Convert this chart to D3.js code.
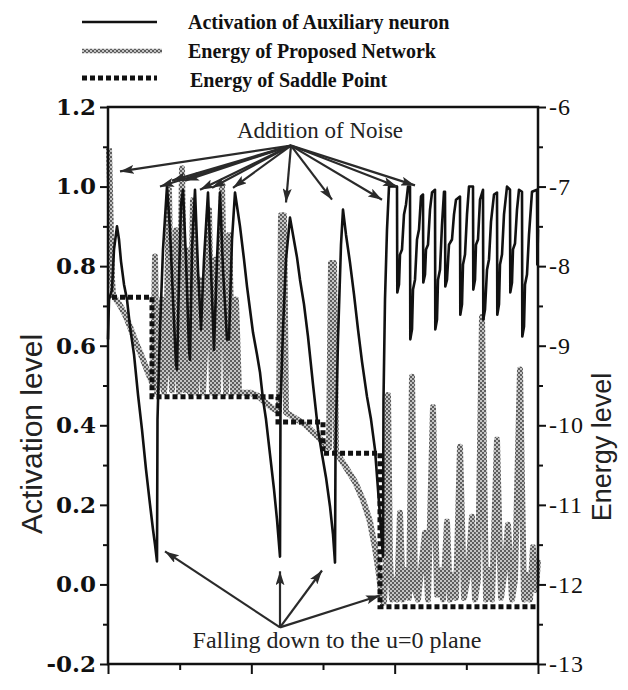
<!DOCTYPE html>
<html lang="en">
<head>
<meta charset="UTF-8">
<title>Auxiliary neuron activation and energy</title>
<script src="https://d3js.org/d3.v7.min.js"></script>
<style>
    body { margin: 0; background: #ffffff; }
    .serif { font-family: "Liberation Serif", "Times New Roman", serif; }
    .sans { font-family: "Liberation Sans", Arial, sans-serif; }
</style>
</head>
<body>
<svg id="chart" width="628" height="690"></svg>
<script>
    // activation of the auxiliary neuron: [step, activation]
    const activation = [
        [0, 0.616], [1, 0.716], [4, 0.741], [6, 0.842], [9, 0.9], [11, 0.867], [13, 0.812], [16, 0.754],
        [19, 0.716], [22, 0.648], [26, 0.578], [30, 0.477], [34, 0.389], [38, 0.289], [42, 0.201], [45, 0.138],
        [47, 0.1], [49, 0.058],
        [49.5, 0.415], [52, 0.641], [55, 0.842], [59, 1.0], [62, 0.892], [65, 0.716], [68, 0.553], [69, 0.54],
        [71, 0.766], [73, 0.955], [75, 0.992], [78, 0.817], [81, 0.59], [82, 0.565], [84, 0.842], [87, 0.992],
        [90, 0.791], [93, 0.641], [96, 0.817], [100, 0.985], [103, 0.791], [106, 0.59], [109, 0.817], [112, 0.985],
        [115, 0.791], [119, 0.616], [121, 0.616], [124, 0.867], [127, 0.985], [132, 0.9], [136, 0.817], [139, 0.749],
        [142, 0.691], [145, 0.633], [149, 0.578], [152, 0.533], [155, 0.465], [158, 0.415], [162, 0.327], [166, 0.239],
        [169, 0.163], [172, 0.07],
        [172.5, 0.447], [175, 0.641], [178, 0.817], [182, 0.922], [185, 0.879], [189, 0.822], [192, 0.766], [196, 0.704],
        [200, 0.623], [205, 0.503], [210, 0.389], [214, 0.327], [218, 0.269], [222, 0.196], [225, 0.126], [227, 0.055],
        [227.5, 0.332], [230, 0.616], [233, 0.854], [235, 0.942], [238, 0.879], [242, 0.809], [246, 0.729], [250, 0.641],
        [254, 0.56], [259, 0.472], [263, 0.415], [267, 0.339], [270, 0.239], [273, 0.138], [275, 0.07],
        [275.5, 0.465], [277, 0.716], [279, 0.892], [281, 1.0], [289, 1.0],
        [289.3, 0.734], [291, 0.754], [292, 0.829], [294, 0.842], [296, 0.93], [298, 0.955], [300, 1.0], [302, 1.0],
        [302.3, 0.616], [304, 0.641], [305, 0.741], [307, 0.766], [309, 0.867], [311, 0.892], [313, 0.975], [315, 0.98],
        [315.3, 0.759], [317, 0.779], [318, 0.842], [320, 0.854], [322, 0.942], [324, 0.985], [327, 0.992],
        [327.3, 0.641], [329, 0.666], [330, 0.766], [332, 0.791], [334, 0.904], [336, 0.987], [337, 0.987],
        [337.3, 0.749], [339, 0.766], [341, 0.854], [344, 0.867], [346, 0.93], [348, 0.967], [352, 0.975],
        [352.3, 0.678], [354, 0.704], [355, 0.804], [357, 0.829], [359, 0.93], [361, 1.0], [365, 1.0],
        [365.3, 0.741], [367, 0.766], [368, 0.854], [370, 0.867], [372, 0.967], [375, 0.992],
        [375.3, 0.666], [377, 0.691], [379, 0.791], [381, 0.817], [383, 0.912], [386, 0.98], [389, 0.985],
        [389.3, 0.678], [391, 0.704], [392, 0.804], [394, 0.829], [396, 0.93], [399, 1.0], [402, 0.992],
        [402.3, 0.734], [404, 0.759], [405, 0.842], [407, 0.857], [409, 0.942], [411, 0.992], [414, 0.987],
        [414.3, 0.623], [416, 0.648], [417, 0.754], [419, 0.779], [421, 0.879], [424, 0.987], [429, 0.992],
        [429.3, 0.804], [430, 0.892]
    ];

    // energy of the proposed network: [step, energy]
    const energy = [
        [1, -6.52], [2, -7.04], [3, -7.67], [4, -8.17], [5, -8.36], [8, -8.42], [12, -8.49], [17, -8.61],
        [22, -8.76], [27, -8.93], [32, -9.08], [37, -9.24], [42, -9.40], [45, -9.49],
        [47, -7.88], [49, -9.58], [51, -9.43], [54, -8.42], [56, -9.58], [58, -9.30], [61, -7.04], [64, -9.56],
        [66, -8.93], [68, -7.55], [71, -9.58], [74, -6.77], [77, -9.56], [79, -7.80], [82, -9.59], [85, -7.17],
        [88, -9.59], [92, -8.17], [95, -9.59], [98, -8.80], [101, -7.29], [104, -9.59], [107, -7.92], [110, -9.59],
        [114, -6.98], [118, -9.59], [121, -7.61], [125, -9.59], [128, -8.42], [131, -9.59], [142, -9.59],
        [150, -9.63], [157, -9.71], [164, -9.78], [171, -9.83], [173, -7.36], [176, -7.36], [178, -9.84],
        [187, -9.91], [197, -9.99], [207, -10.11], [217, -10.23], [221, -10.28], [223, -7.96], [226, -7.96],
        [228, -10.33], [237, -10.51], [247, -10.71], [255, -10.94], [262, -11.21], [267, -11.54], [271, -11.88],
        [274, -12.19],
        [276, -12.23], [278, -11.69], [280, -9.62], [282, -11.69], [284, -12.19], [287, -11.94], [289, -12.19],
        [292, -11.10], [295, -12.19], [298, -11.82], [301, -12.17], [304, -9.39], [307, -12.07], [310, -12.19],
        [313, -11.82], [317, -11.35], [320, -12.19], [325, -9.77], [329, -12.13], [332, -11.82], [335, -12.19],
        [339, -11.21], [342, -12.19], [345, -11.88], [348, -12.17], [352, -10.27], [356, -12.17], [360, -11.88],
        [364, -11.15], [367, -12.19], [370, -11.94], [374, -8.64], [378, -12.19], [381, -11.82], [384, -12.19],
        [389, -10.18], [393, -12.17], [396, -11.88], [400, -11.25], [404, -12.19], [407, -11.94], [412, -9.30],
        [416, -12.19], [419, -11.88], [422, -12.19], [425, -11.53], [428, -12.07], [430, -11.69]
    ];

    // energy of the saddle point (step function): [step, energy]
    const saddle = [[4, -8.39], [44, -9.64], [170, -9.96], [215, -10.35], [272, -12.28], [430, -12.28]];

    const stepDomain = [0, 430];
    const leftTicks = [-0.2, 0.0, 0.2, 0.4, 0.6, 0.8, 1.0, 1.2];
    const leftMinor = [-0.1, 0.1, 0.3, 0.5, 0.7, 0.9, 1.1];
    const rightTicks = [-13, -12, -11, -10, -9, -8, -7, -6];
    const rightMinor = [-12.5, -11.5, -10.5, -9.5, -8.5, -7.5, -6.5];
    const bottomMajor = [0, 143.33, 286.67, 430];
    const bottomMinor = [71.67, 215, 358.33];

    const legendLabels = ["Activation of Auxiliary neuron", "Energy of Proposed Network", "Energy of Saddle Point"];

    // annotation arrows, tips in [step, activation]
    const noiseFrom = [183, 1.103];
    const noiseTips = [[12, 1.038], [52, 1.0], [64, 1.015], [77, 1.015], [92, 0.992], [104, 0.997], [125, 0.997],
        [178, 0.96], [224, 0.967], [274, 0.967], [289, 1.0], [307, 1.003]];
    const fallFrom = [172, -0.108];
    const fallTips = [[57, 0.083], [172, 0.033], [214, 0.035], [272, -0.028]];

    const svg = d3.select("#chart");
    const mLeft = 108, mRight = 538, mTop = 107, mBottom = 664;

    const x = d3.scaleLinear().domain(stepDomain).range([mLeft, mRight]);
    const yA = d3.scaleLinear().domain([-0.2, 1.2]).range([mBottom, mTop]);
    const yE = d3.scaleLinear().domain([-13, -6]).range([mBottom, mTop]);

    // checkered pattern for the energy trace
    const defs = svg.append("defs");
    const pat = defs.append("pattern")
        .attr("id", "hatch")
        .attr("width", 4).attr("height", 4)
        .attr("patternUnits", "userSpaceOnUse");
    pat.append("rect").attr("width", 4).attr("height", 4).attr("fill", "#5e5e5e");
    pat.append("rect").attr("width", 2).attr("height", 2).attr("fill", "#c4c4c4");
    pat.append("rect").attr("x", 2).attr("y", 2).attr("width", 2).attr("height", 2).attr("fill", "#c4c4c4");

    const marker = defs.append("marker")
        .attr("id", "arrow")
        .attr("viewBox", "0 0 14 9")
        .attr("refX", 14).attr("refY", 4.5)
        .attr("markerWidth", 14).attr("markerHeight", 9)
        .attr("markerUnits", "userSpaceOnUse")
        .attr("orient", "auto");
    marker.append("path").attr("d", "M0,0 L14,4.5 L0,9 L3,4.5 Z").attr("fill", "#2a2a2a");

    // energy (gray checkered)
    svg.append("path")
        .datum(energy)
        .attr("fill", "none")
        .attr("stroke", "url(#hatch)")
        .attr("stroke-width", 6)
        .attr("stroke-linejoin", "round")
        .attr("d", d3.line().x(d => x(d[0])).y(d => yE(d[1])));

    // saddle point energy (dotted step)
    svg.append("path")
        .datum(saddle)
        .attr("fill", "none")
        .attr("stroke", "#111")
        .attr("stroke-width", 5)
        .attr("stroke-dasharray", "5,3")
        .attr("d", d3.line().curve(d3.curveStepAfter).x(d => x(d[0])).y(d => yE(d[1])));

    // activation (black)
    svg.append("path")
        .datum(activation)
        .attr("fill", "none")
        .attr("stroke", "#111")
        .attr("stroke-width", 2.6)
        .attr("stroke-linejoin", "round")
        .attr("d", d3.line().x(d => x(d[0])).y(d => yA(d[1])));

    // frame
    svg.append("rect")
        .attr("x", mLeft).attr("y", mTop)
        .attr("width", mRight - mLeft).attr("height", mBottom - mTop)
        .attr("fill", "none").attr("stroke", "#111").attr("stroke-width", 2.5);

    // axes
    function styleAxis(g) {
        g.select(".domain").remove();
        g.selectAll(".tick line").attr("stroke", "#111").attr("stroke-width", 2);
    }

    svg.append("g")
        .attr("transform", `translate(${mLeft},0)`)
        .call(d3.axisLeft(yA).tickValues(leftTicks).tickSize(8).tickPadding(4).tickFormat(d => d.toFixed(1)))
        .call(styleAxis)
        .call(g => g.selectAll("text")
            .style("font-family", '"DejaVu Serif", serif')
            .style("font-size", "23px").style("font-weight", "bold")
            .attr("fill", "#111"));
    svg.append("g")
        .attr("transform", `translate(${mLeft},0)`)
        .call(d3.axisLeft(yA).tickValues(leftMinor).tickSize(5).tickFormat(""))
        .call(styleAxis);

    svg.append("g")
        .attr("transform", `translate(${mRight},0)`)
        .call(d3.axisRight(yE).tickValues(rightTicks).tickSize(8).tickPadding(3).tickFormat(d => String(d)))
        .call(styleAxis)
        .call(g => g.selectAll("text")
            .attr("class", "serif")
            .style("font-size", "24px").style("letter-spacing", "1px").attr("fill", "#111"));
    svg.append("g")
        .attr("transform", `translate(${mRight},0)`)
        .call(d3.axisRight(yE).tickValues(rightMinor).tickSize(5).tickFormat(""))
        .call(styleAxis);

    svg.append("g")
        .attr("transform", `translate(0,${mBottom})`)
        .call(d3.axisBottom(x).tickValues(bottomMajor).tickSize(10).tickFormat(""))
        .call(styleAxis);
    svg.append("g")
        .attr("transform", `translate(0,${mBottom})`)
        .call(d3.axisBottom(x).tickValues(bottomMinor).tickSize(6).tickFormat(""))
        .call(styleAxis);

    // axis titles
    svg.append("text")
        .attr("class", "sans")
        .attr("transform", "translate(42,434) rotate(-90)")
        .attr("text-anchor", "middle")
        .style("font-size", "30px").attr("fill", "#222")
        .text("Activation level");
    svg.append("text")
        .attr("class", "sans")
        .attr("transform", "translate(611,447) rotate(-90)")
        .attr("text-anchor", "middle")
        .style("font-size", "27px").attr("fill", "#222")
        .text("Energy level");

    // annotations
    const ann = svg.append("g");
    noiseTips.forEach(t => {
        ann.append("line")
            .attr("x1", x(noiseFrom[0])).attr("y1", yA(noiseFrom[1]))
            .attr("x2", x(t[0])).attr("y2", yA(t[1]))
            .attr("stroke", "#2a2a2a").attr("stroke-width", 2.2)
            .attr("marker-end", "url(#arrow)");
    });
    fallTips.forEach(t => {
        ann.append("line")
            .attr("x1", x(fallFrom[0])).attr("y1", yA(fallFrom[1]))
            .attr("x2", x(t[0])).attr("y2", yA(t[1]))
            .attr("stroke", "#2a2a2a").attr("stroke-width", 2.2)
            .attr("marker-end", "url(#arrow)");
    });
    ann.append("text")
        .attr("class", "serif")
        .attr("x", 320).attr("y", 138)
        .attr("text-anchor", "middle")
        .style("font-size", "23px").attr("fill", "#222")
        .text("Addition of Noise");
    ann.append("text")
        .attr("class", "serif")
        .attr("x", 337).attr("y", 648)
        .attr("text-anchor", "middle")
        .style("font-size", "24px").attr("fill", "#222")
        .text("Falling down to the u=0 plane");

    // legend
    const lg = svg.append("g");
    lg.append("line").attr("x1", 82).attr("x2", 157).attr("y1", 22).attr("y2", 22)
        .attr("stroke", "#111").attr("stroke-width", 2.5);
    lg.append("line").attr("x1", 82).attr("x2", 162).attr("y1", 51).attr("y2", 51)
        .attr("stroke", "url(#hatch)").attr("stroke-width", 4.5);
    lg.append("line").attr("x1", 82).attr("x2", 157).attr("y1", 78).attr("y2", 78)
        .attr("stroke", "#111").attr("stroke-width", 5).attr("stroke-dasharray", "5,3");
    lg.selectAll("text.leg")
        .data(legendLabels)
        .enter().append("text")
        .attr("class", "serif leg")
        .attr("x", (d, i) => i === 2 ? 190 : 188)
        .attr("y", (d, i) => [29, 58, 87][i])
        .style("font-size", "20px").style("font-weight", "bold").attr("fill", "#111")
        .text(d => d);
</script>
</body>
</html>
